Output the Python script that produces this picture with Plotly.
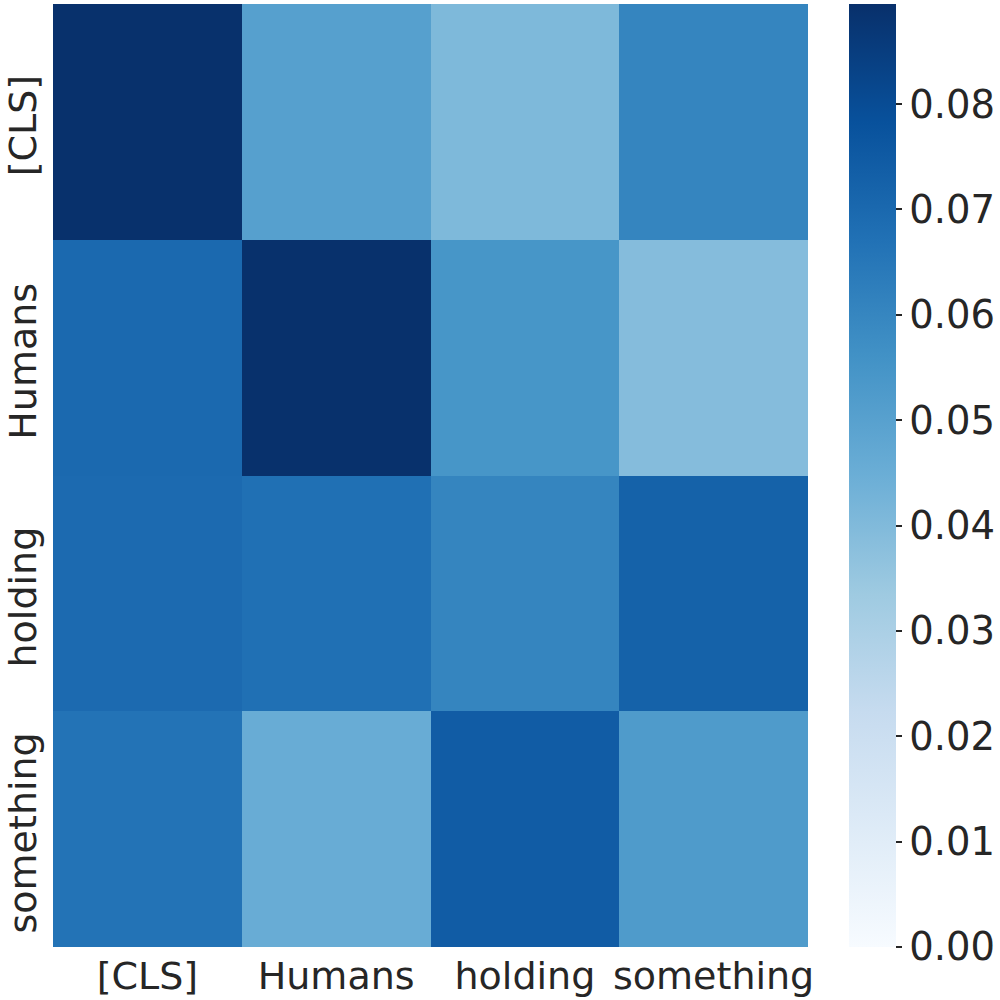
import plotly.graph_objects as go

x_labels = ["[CLS]", "Humans", "holding", "something"]
y_labels = ["[CLS]", "Humans", "holding", "something"]
row_cls = [0.0893, 0.0505, 0.0405, 0.0605]
row_humans = [0.0700, 0.0893, 0.0545, 0.0390]
row_holding = [0.0695, 0.0675, 0.0605, 0.0725]
row_something = [0.0665, 0.0455, 0.0745, 0.0525]
values = [row_cls, row_humans, row_holding, row_something]
cbar_ticks = [0.00, 0.01, 0.02, 0.03, 0.04, 0.05, 0.06, 0.07, 0.08]

blues = ["#f7fbff", "#deebf7", "#c6dbef", "#9ecae1", "#6baed6", "#4292c6", "#2171b5", "#08519c", "#08306b"]
scale = [[i / 8, c] for i, c in enumerate(blues)]
FONT = "DejaVu Sans"
TEXT = "#262626"
W, H = 1000, 1000
L, R, T, B = 53, 808, 4, 947
CB_L = 849
LABEL_NUDGE = 0.04  # rotated labels sit slightly off the row centre

rows = list(range(len(y_labels)))
fig = go.Figure(go.Heatmap(
    z=values, x=x_labels, y=rows, zmin=0, zmax=0.0895, colorscale=scale, xgap=0, ygap=0,
    customdata=[[lab] * len(x_labels) for lab in y_labels],
    hovertemplate="%{customdata}, %{x}: %{z}<extra></extra>",
    colorbar=dict(
        x=CB_L / W, xanchor="left", xref="paper", xpad=0, ypad=0,
        y=1 - B / H, yanchor="bottom", yref="paper",
        len=(B - T) / H, lenmode="fraction", thickness=47, thicknessmode="pixels",
        outlinewidth=0, tickmode="array", tickvals=cbar_ticks,
        ticktext=[f"{t:.2f}" for t in cbar_ticks], ticks="outside", ticklen=6, tickwidth=1.5, tickcolor=TEXT,
        tickfont=dict(family=FONT, size=38.5, color=TEXT),
    ),
))
fig.update_layout(
    width=W, height=H, margin=dict(l=0, r=0, t=0, b=0, autoexpand=False),
    paper_bgcolor="white", plot_bgcolor="white", font=dict(family=FONT, color=TEXT),
    xaxis=dict(domain=[L / W, R / W], showgrid=False, zeroline=False, ticks="", ticklabelstandoff=3,
               tickfont=dict(family=FONT, size=38, color=TEXT), tickangle=0),
    yaxis=dict(domain=[1 - B / H, 1 - T / H], autorange="reversed",
               tickmode="array", tickvals=[r + LABEL_NUDGE for r in rows], ticktext=y_labels,
               showgrid=False, zeroline=False, ticks="", ticklabelstandoff=8,
               tickfont=dict(family=FONT, size=38, color=TEXT), tickangle=-90),
)
fig.write_html("out.html", config={"displayModeBar": False},
               post_script="document.body.style.margin='0';document.body.style.overflow='hidden';")
